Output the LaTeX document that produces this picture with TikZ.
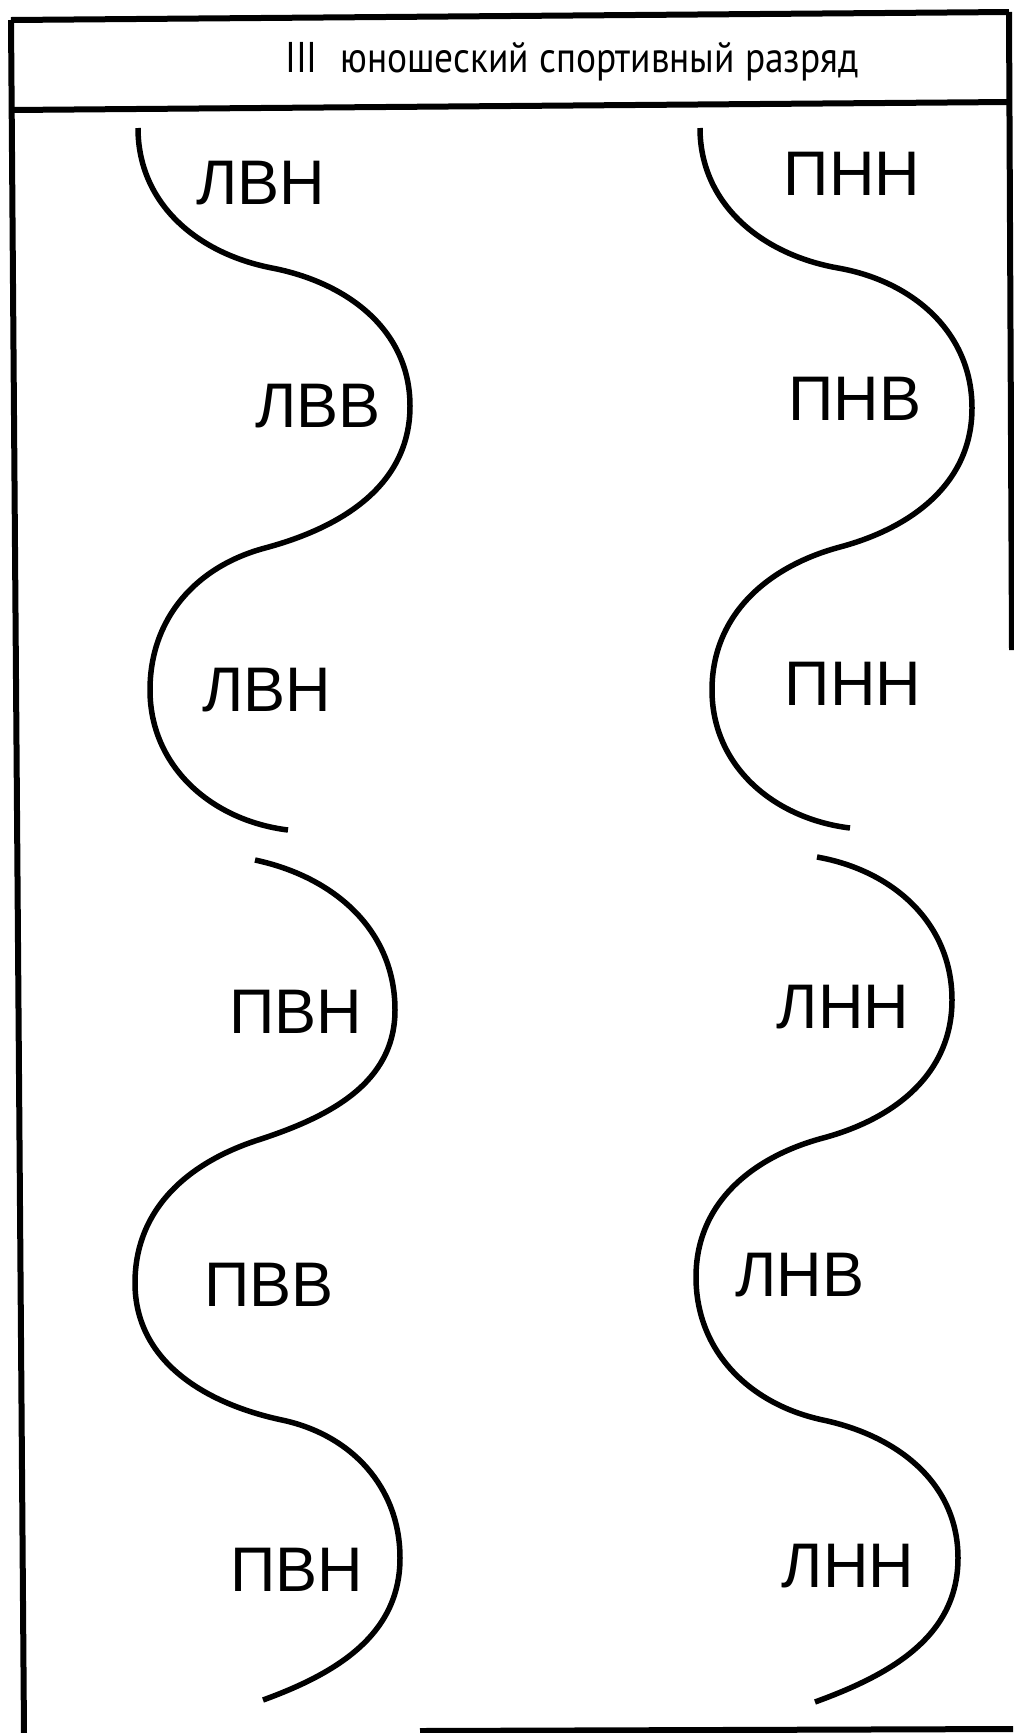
\documentclass[tikz,border=0pt]{standalone}
\usepackage{fontspec}
\setmainfont{Liberation Sans}
\newfontfamily\titlefont{PT Sans}
\begin{document}
\begin{tikzpicture}[x=1pt,y=1pt,
  frameline/.style={line width=6pt},
  wave/.style={line width=5.5pt},
  lbl/.style={font=\fontsize{63}{70}\selectfont, inner sep=0pt},
  ttl/.style={font=\titlefont\fontsize{43}{48}\selectfont, inner sep=0pt, anchor=base west}]
\useasboundingbox (0,0) rectangle (1013,-1733);
% frame
\coordinate (tl) at (11,-20);
\coordinate (tr) at (1009,-12);
\coordinate (hl) at (11,-110);
\coordinate (hr) at (1009,-102);
\coordinate (bl) at (24,-1733);
\coordinate (rb) at (1012,-650);
\coordinate (b1) at (420,-1731);
\coordinate (b2) at (1013,-1729);
\draw[frameline] (tl) -- (tr);
\draw[frameline] (hl) -- (hr);
\draw[frameline] (tl) -- (bl);
\draw[frameline] (tr) -- (rb);
\draw[frameline] (b1) -- (b2);
\node[ttl] (title) at (285,-72) {\scalebox{0.87}[1]{III\hspace{0.6em}юношеский спортивный разряд}};
% left column, upper wave
\draw[wave] (138,-128) to[out=-90,in=169] (272,-268) to[out=-11,in=90] (410,-406)
  to[out=-90,in=15] (265,-548) to[out=195,in=90] (150,-690) to[out=-90,in=173] (288,-830);
% left column, lower wave
\draw[wave] (255,-860) to[out=-12,in=90] (395,-1010) to[out=-90,in=18] (258,-1140)
  to[out=198,in=90] (135,-1283) to[out=-90,in=168] (282,-1420) to[out=-12,in=90] (400,-1558)
  to[out=-90,in=20] (263,-1700);
% right column, upper wave
\draw[wave] (700,-128) to[out=-90,in=170] (838,-268) to[out=-10,in=90] (972,-408)
  to[out=-90,in=15] (840,-547) to[out=195,in=90] (712,-690) to[out=-90,in=173] (850,-828);
% right column, lower wave
\draw[wave] (817,-857) to[out=-10,in=90] (952,-1000) to[out=-90,in=15] (823,-1138)
  to[out=195,in=90] (696,-1277) to[out=-90,in=168] (823,-1420) to[out=-12,in=90] (958,-1558)
  to[out=-90,in=20] (815,-1702);
% labels
\node[lbl] (l1) at (261,-183) {ЛВН};
\node[lbl] (l2) at (318,-406) {ЛВВ};
\node[lbl] (l3) at (267,-690) {ЛВН};
\node[lbl] (l4) at (296,-1012) {ПВН};
\node[lbl] (l5) at (269,-1285) {ПВВ};
\node[lbl] (l6) at (297,-1570) {ПВН};
\node[lbl] (r1) at (852,-174) {ПНН};
\node[lbl] (r2) at (855,-399) {ПНВ};
\node[lbl] (r3) at (853,-684) {ПНН};
\node[lbl] (r4) at (843,-1007) {ЛНН};
\node[lbl] (r5) at (800,-1275) {ЛНВ};
\node[lbl] (r6) at (848,-1566) {ЛНН};
\end{tikzpicture}
\end{document}
